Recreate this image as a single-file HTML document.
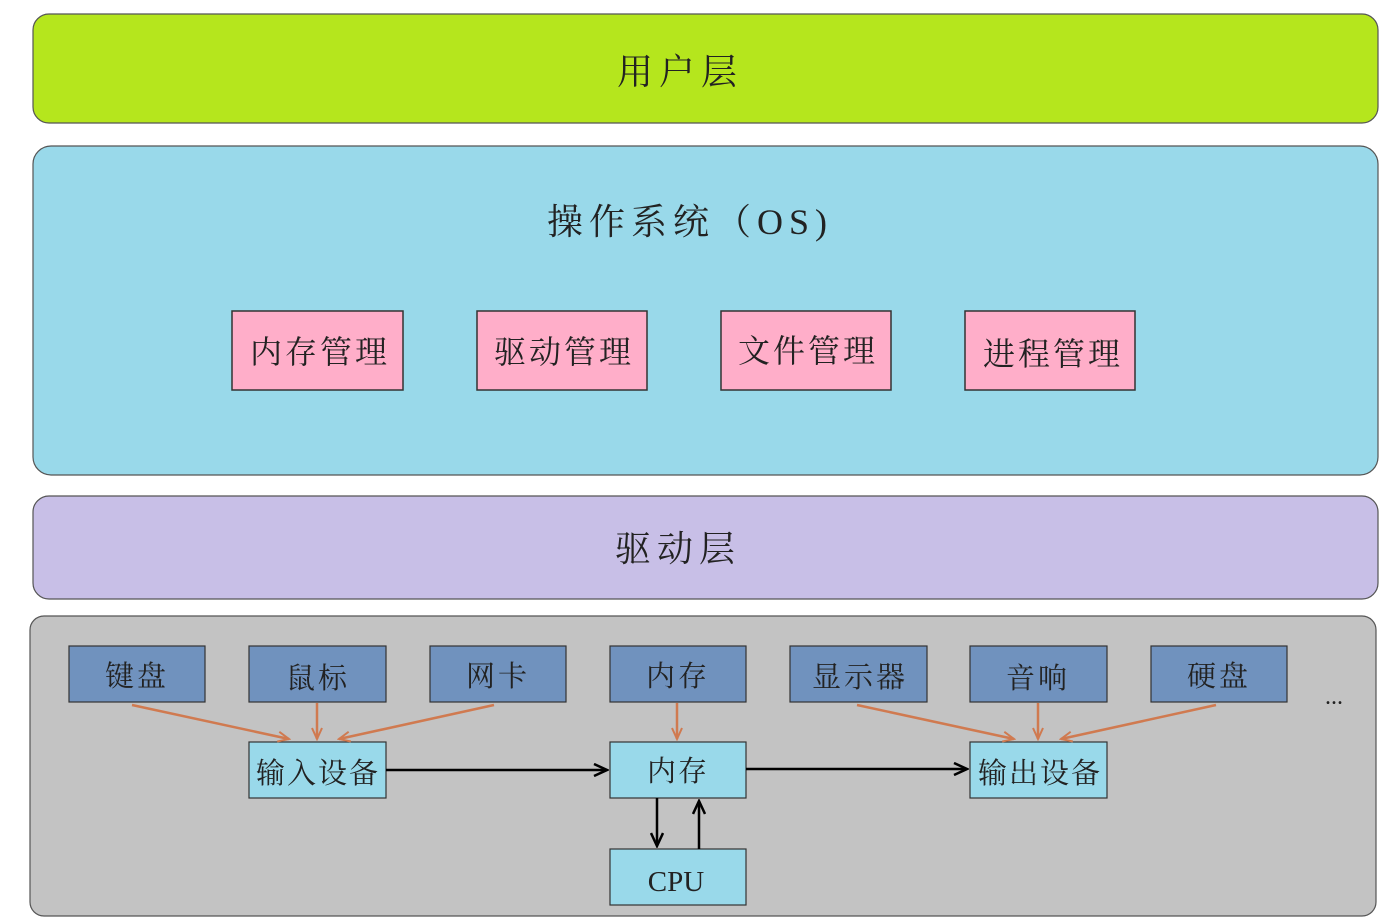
<!DOCTYPE html>
<html><head><meta charset="utf-8"><style>
html,body{margin:0;padding:0;background:#fff;}
svg{display:block;}
text{font-family:"Liberation Serif","Noto Serif CJK SC",serif;fill:#222;}
</style></head><body>
<svg width="1386" height="922" viewBox="0 0 1386 922" xmlns="http://www.w3.org/2000/svg">
<defs>
<marker id="oa" markerWidth="14" markerHeight="12" refX="12" refY="6" orient="auto" markerUnits="userSpaceOnUse">
<path d="M1,1 L12,6 L1,11" fill="none" stroke="#d07a50" stroke-width="2"/></marker>
<marker id="ba" markerWidth="16" markerHeight="14" refX="14" refY="7" orient="auto" markerUnits="userSpaceOnUse">
<path d="M1,1 L14,7 L1,13" fill="none" stroke="#000" stroke-width="2.5"/></marker>
</defs>
<rect x="33" y="14" width="1345" height="109" rx="16" fill="#b5e61d" stroke="#555" stroke-width="1.2"/>
<text x="680" y="84" font-size="36" text-anchor="middle" letter-spacing="6">用户层</text>
<rect x="33" y="146" width="1345" height="329" rx="18" fill="#99d9ea" stroke="#555" stroke-width="1.2"/>
<text x="690" y="234" font-size="36" text-anchor="middle" letter-spacing="6">操作系统（OS)</text>
<g stroke="#333" stroke-width="1.5" fill="#ffaec9">
<rect x="232" y="311" width="171" height="79"/><rect x="477" y="311" width="170" height="79"/>
<rect x="721" y="311" width="170" height="79"/><rect x="965" y="311" width="170" height="79"/></g>
<g font-size="32" text-anchor="middle" letter-spacing="3">
<text x="320" y="363">内存管理</text><text x="564" y="363">驱动管理</text>
<text x="808" y="362">文件管理</text><text x="1053" y="365">进程管理</text></g>
<rect x="33" y="496" width="1345" height="103" rx="16" fill="#c8bfe7" stroke="#555" stroke-width="1.2"/>
<text x="678" y="561" font-size="36" text-anchor="middle" letter-spacing="6">驱动层</text>
<rect x="30" y="616" width="1346" height="300" rx="14" fill="#c3c3c3" stroke="#555" stroke-width="1.2"/>
<g stroke="#333" stroke-width="1.2" fill="#7092be">
<rect x="69" y="646" width="136" height="56"/><rect x="249" y="646" width="137" height="56"/>
<rect x="430" y="646" width="136" height="56"/><rect x="610" y="646" width="136" height="56"/>
<rect x="790" y="646" width="137" height="56"/><rect x="970" y="646" width="137" height="56"/>
<rect x="1151" y="646" width="136" height="56"/></g>
<g font-size="29" text-anchor="middle" letter-spacing="3">
<text x="137" y="686">键盘</text><text x="318" y="688">鼠标</text><text x="498" y="686">网卡</text>
<text x="678" y="686">内存</text><text x="860" y="687">显示器</text><text x="1038" y="688">音响</text>
<text x="1219" y="686">硬盘</text></g>
<text x="1334" y="704" font-size="24" text-anchor="middle">...</text>
<g stroke="#333" stroke-width="1.2" fill="#99d9ea">
<rect x="249" y="742" width="137" height="56"/><rect x="610" y="742" width="136" height="56"/>
<rect x="970" y="742" width="137" height="56"/><rect x="610" y="849" width="136" height="56"/></g>
<g font-size="29" text-anchor="middle" letter-spacing="2">
<text x="318" y="783">输入设备</text><text x="678" y="781">内存</text>
<text x="1040" y="783">输出设备</text><text x="676" y="891" letter-spacing="0">CPU</text></g>
<g stroke="#d07a50" stroke-width="2.5" marker-end="url(#oa)">
<line x1="132" y1="705" x2="289" y2="739"/><line x1="317" y1="703" x2="317" y2="739"/>
<line x1="494" y1="705" x2="339" y2="739"/><line x1="677" y1="703" x2="677" y2="739"/>
<line x1="857" y1="705" x2="1014" y2="739"/><line x1="1038" y1="703" x2="1038" y2="739"/>
<line x1="1216" y1="705" x2="1061" y2="739"/></g>
<g stroke="#000" stroke-width="2.5" marker-end="url(#ba)">
<line x1="386" y1="770" x2="607" y2="770"/><line x1="746" y1="769" x2="967" y2="769"/>
<line x1="657" y1="798" x2="657" y2="846"/><line x1="699" y1="849" x2="699" y2="801"/></g>
</svg>
</body></html>
